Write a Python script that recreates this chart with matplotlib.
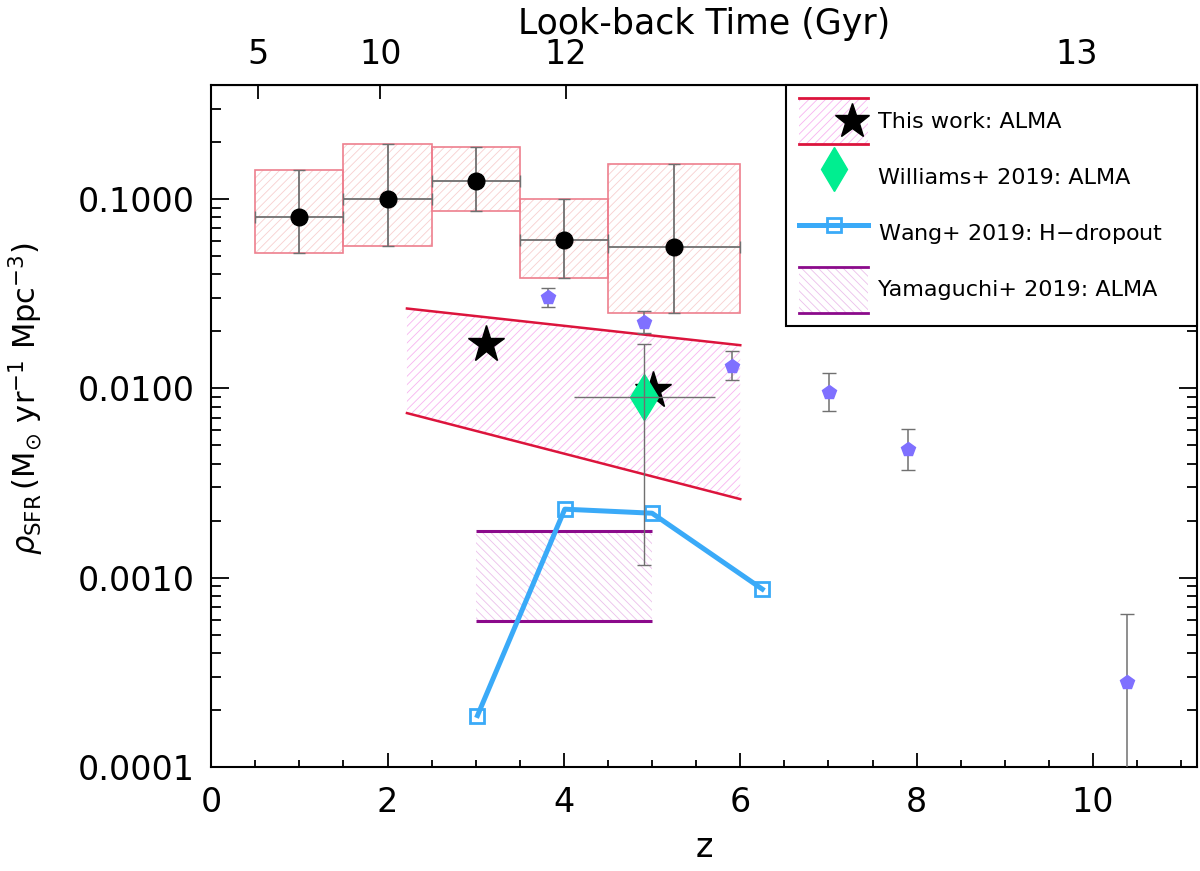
import numpy as np
import matplotlib
matplotlib.use('Agg')
import matplotlib.pyplot as plt
from matplotlib.ticker import MultipleLocator, FixedLocator, NullLocator
from matplotlib.legend_handler import HandlerBase, HandlerLine2D
from matplotlib.patches import Rectangle
from matplotlib.lines import Line2D

# compilation points with boxes
box_z = np.array([1.0, 2.0, 3.0, 4.0, 5.25])
box_zlo = np.array([0.5, 1.5, 2.5, 3.5, 4.5])
box_zhi = np.array([1.5, 2.5, 3.5, 4.5, 6.0])
box_sfr = np.array([0.080, 0.100, 0.1245, 0.061, 0.056])
box_lo = np.array([0.052, 0.0566, 0.086, 0.0384, 0.0251])
box_hi = np.array([0.143, 0.195, 0.189, 0.1005, 0.153])

# pentagons
pent_z = np.array([3.82, 4.91, 5.91, 7.01, 7.90, 10.39])
pent_sfr = np.array([0.0303, 0.0224, 0.0132, 0.0096, 0.0048, 0.00028])
pent_lo = np.array([0.027, 0.0196, 0.0110, 0.0076, 0.0037, 0.00001])
pent_hi = np.array([0.034, 0.0257, 0.0158, 0.0121, 0.0061, 0.00064])

# this work
star_z = [3.12, 5.01]
star_sfr = [0.0172, 0.0098]
band_z = [2.22, 6.0]
band_hi = [0.0264, 0.0169]
band_lo = [0.0074, 0.0026]

# Williams+ 2019
will_z, will_sfr = 4.91, 0.0090
will_zlo, will_zhi = 4.12, 5.71
will_lo, will_hi = 0.00117, 0.0172

# Wang+ 2019
wang_z = [3.02, 4.01, 5.0, 6.25]
wang_sfr = [0.000187, 0.0023, 0.00219, 0.00087]

# Yamaguchi+ 2019
yama_z = [3.0, 5.0]
yama_lo, yama_hi = 0.000588, 0.00176

# look-back time axis
top_tick_z = [0.53, 1.92, 4.02, 9.81]
top_tick_labels = ['5', '10', '12', '13']

red = '#DC143C'
purple = '#8B0A8B'
blue = '#3AAAF8'
grey = '#707070'
pink_hatch = '#F7B4F0'
yama_hatch = '#EBC0EB'
plt.rcParams['hatch.linewidth'] = 0.6


class BandHandler(HandlerBase):
    def __init__(self, line_color, hatch_color, hatch, marker=None):
        super().__init__()
        self.line_color = line_color
        self.hatch_color = hatch_color
        self.hatch = hatch
        self.marker = marker

    def create_artists(self, legend, orig_handle, xdescent, ydescent,
                       width, height, fontsize, trans):
        x0, y0 = -xdescent, -ydescent
        rect = Rectangle((x0, y0), width, height, fill=False, lw=0,
                         edgecolor=self.hatch_color, hatch=self.hatch,
                         transform=trans)
        top = Line2D([x0, x0 + width], [y0 + height] * 2, color=self.line_color,
                     lw=2, transform=trans)
        bot = Line2D([x0, x0 + width], [y0] * 2, color=self.line_color,
                     lw=2, transform=trans)
        arts = [rect, top, bot]
        if self.marker is not None:
            arts.append(Line2D([x0 + 0.76 * width], [y0 + height / 2],
                               marker=self.marker, color='k', ms=26, ls='none',
                               transform=trans))
        return arts


class HandlerRightMarker(HandlerLine2D):
    def get_xdata(self, legend, xdescent, ydescent, width, height, fontsize):
        xdata = np.array([-xdescent, -xdescent + width])
        return xdata, np.array([-xdescent + 0.76 * width])


fig = plt.figure(figsize=(12, 8.71), dpi=100)
ax = fig.add_axes([0.176, 0.1194, 0.8215, 0.783])
ax.set_yscale('log')

# boxes
ax.bar(box_zlo, box_hi - box_lo, bottom=box_lo, width=box_zhi - box_zlo,
       align='edge', fill=False, edgecolor='#F8CFCF', hatch='////', lw=0, zorder=1)
ax.bar(box_zlo, box_hi - box_lo, bottom=box_lo, width=box_zhi - box_zlo,
       align='edge', fill=False, edgecolor='#EE7F8E', lw=1.2, zorder=2)
ax.errorbar(box_z, box_sfr, xerr=[box_z - box_zlo, box_zhi - box_z],
            yerr=[box_sfr - box_lo, box_hi - box_sfr], fmt='none',
            ecolor=grey, elinewidth=1.3, capsize=4, zorder=3)
ax.plot(box_z, box_sfr, 'o', color='k', ms=12, zorder=4)

# this work band
ax.fill_between(band_z, band_lo, band_hi, facecolor='none', edgecolor=pink_hatch,
                hatch='////', lw=0, zorder=1)
ax.plot(band_z, band_hi, color=red, lw=1.8, zorder=2)
ax.plot(band_z, band_lo, color=red, lw=1.8, zorder=2)

# Yamaguchi band
ax.fill_between(yama_z, yama_lo, yama_hi, facecolor='none', edgecolor=yama_hatch,
                hatch='\\\\\\\\', lw=0, zorder=1)
ax.hlines([yama_lo, yama_hi], yama_z[0], yama_z[1], color=purple, lw=2.2, zorder=2)

# pentagons
ax.errorbar(pent_z, pent_sfr, yerr=[pent_sfr - pent_lo, pent_hi - pent_sfr],
            fmt='none', ecolor=grey, elinewidth=1.1, capsize=5, zorder=3)
ax.plot(pent_z, pent_sfr, 'p', color='#7F70FF', ms=10, zorder=4)

# Wang
ax.plot(wang_z, wang_sfr, '-s', color=blue, lw=3.6, ms=10, mfc='none',
        mew=2, zorder=5)

# stars + Williams
ax.plot(star_z, star_sfr, '*', color='k', ms=28, ls='none', zorder=6)
ax.plot([will_z], [will_sfr], 'd', color='#00EE90', ms=23, zorder=7)
ax.errorbar([will_z], [will_sfr], yerr=[[will_sfr - will_lo], [will_hi - will_sfr]],
            fmt='none', ecolor=grey, elinewidth=1.0, capsize=5, zorder=8)
ax.errorbar([will_z], [will_sfr], xerr=[[will_z - will_zlo], [will_zhi - will_z]],
            fmt='none', ecolor=grey, elinewidth=1.0, capsize=0, zorder=8)

# axes
ax.set_xlim(0, 11.18)
ax.set_ylim(1e-4, 0.4)
ax.set_xticks([0, 2, 4, 6, 8, 10])
ax.xaxis.set_minor_locator(MultipleLocator(0.5))
ax.set_yticks([1e-4, 1e-3, 1e-2, 1e-1])
ax.set_yticklabels(['0.0001', '0.0010', '0.0100', '0.1000'])
ax.tick_params(which='both', direction='in', top=False, right=True,
               labelsize=24, width=1.3)
ax.tick_params(axis='y', which='major', length=13, pad=12)
ax.tick_params(axis='y', which='minor', length=7)
ax.tick_params(axis='x', which='major', length=10, pad=14)
ax.tick_params(axis='x', which='minor', length=5)
for s in ax.spines.values():
    s.set_linewidth(1.5)

ax.set_xlabel('z', fontsize=24, labelpad=8)
ax.set_ylabel(r'$\rho_{\mathrm{SFR}}\,(\mathrm{M_{\odot}\ yr^{-1}\ Mpc^{-3}})$',
              fontsize=22)
ax.yaxis.set_label_coords(-0.168, 0.54)

top = ax.secondary_xaxis('top', functions=(lambda x: x, lambda x: x))
top.xaxis.set_major_locator(FixedLocator(top_tick_z))
top.xaxis.set_minor_locator(NullLocator())
top.set_xticklabels(top_tick_labels)
top.tick_params(direction='in', length=10, width=1.3, labelsize=24, pad=10)
top.set_xlabel('Look-back Time (Gyr)', fontsize=25, labelpad=3)

# legend
h_this = Rectangle((0, 0), 1, 1)
h_will = Line2D([], [], marker='d', color='#00EE90', ms=22, ls='none')
h_wang = Line2D([], [], marker='s', color=blue, lw=3.6, ms=10, mfc='none', mew=2)
h_yama = Rectangle((0, 0), 1, 1)
leg = ax.legend([h_this, h_will, h_wang, h_yama],
                ['This work: ALMA', 'Williams+ 2019: ALMA',
                 'Wang+ 2019: H$-$dropout', 'Yamaguchi+ 2019: ALMA'],
                handler_map={h_this: BandHandler(red, pink_hatch, '////', marker='*'),
                             h_yama: BandHandler(purple, yama_hatch, '\\\\\\\\'),
                             h_will: HandlerRightMarker(),
                             h_wang: HandlerRightMarker()},
                loc='upper left', bbox_to_anchor=(0.583, 0, 0.417, 1.0),
                mode='expand', borderaxespad=0, fontsize=16, handlelength=3.1,
                handleheight=2.8, labelspacing=0.46, borderpad=0.6,
                handletextpad=0.45, fancybox=False, framealpha=1, edgecolor='k')
leg.get_frame().set_linewidth(1.5)
leg.set_zorder(10)

fig.savefig('out.png', dpi=100)
